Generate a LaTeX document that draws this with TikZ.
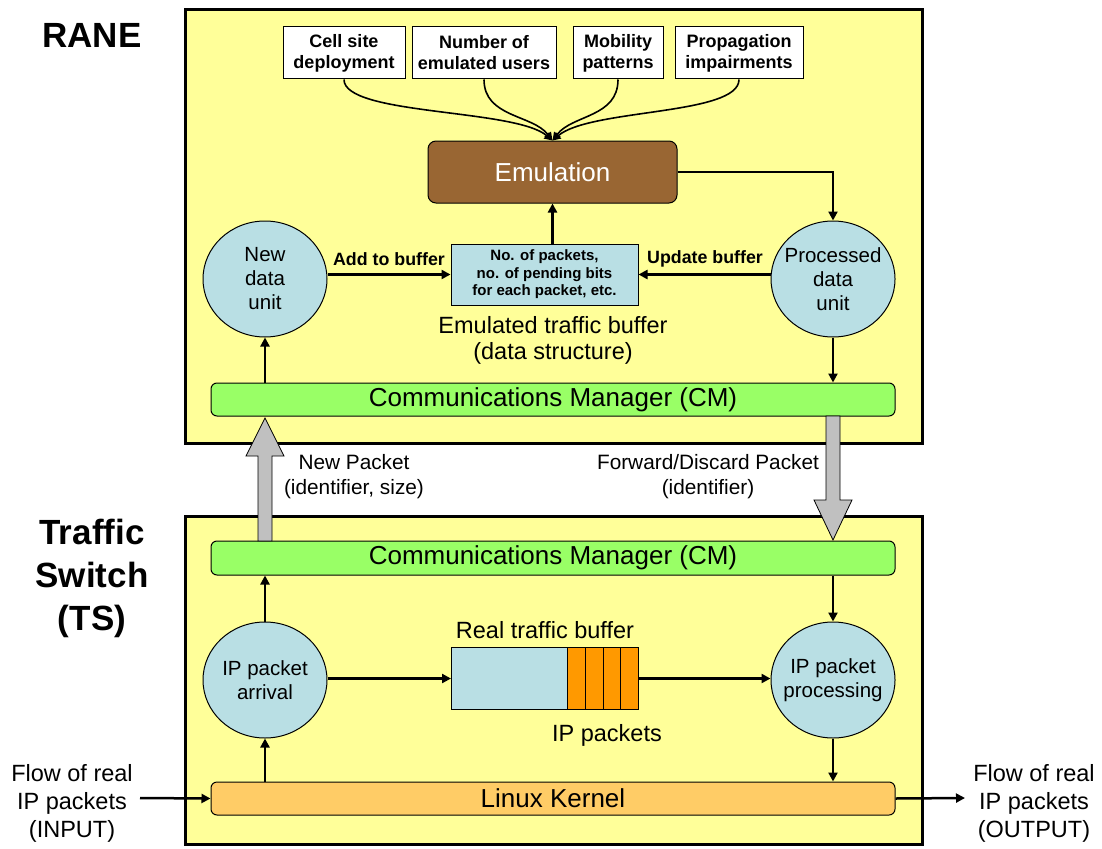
\documentclass[tikz,border=0pt]{standalone}
\usepackage{fontspec}
\setmainfont{Liberation Sans}
\usetikzlibrary{arrows.meta,shapes.geometric,calc}

\definecolor{panel}{HTML}{FFFF99}
\definecolor{unitblue}{HTML}{B9DFE4}
\definecolor{cmgreen}{HTML}{99FF66}
\definecolor{emubrown}{HTML}{996633}
\definecolor{pktorange}{HTML}{FF9900}
\definecolor{kernel}{HTML}{FFCC66}
\definecolor{biggrey}{HTML}{C0C0C0}

\newcommand{\fsz}[2]{\fontsize{#1pt}{#2pt}\selectfont}

\tikzset{
  panelbox/.style={draw, line width=3pt, fill=panel, inner sep=0pt, anchor=north west},
  paramb/.style={draw, line width=1pt, fill=white, align=center, inner sep=0pt,
    minimum height=52pt, font=\bfseries\fsz{18}{21}},
  unitcirc/.style={ellipse, draw, line width=1pt, fill=unitblue, inner xsep=-16pt,
    inner ysep=-16pt, minimum width=124pt, minimum height=116pt, align=center,
    font=\fsz{20.5}{24}},
  bar/.style={draw, line width=1pt, rounded corners=6pt, inner sep=0pt,
    minimum width=684pt, minimum height=33pt, font=\fsz{26}{30}},
  flow/.style={line width=2.5pt, -{Triangle[length=9pt,width=9pt]}},
  feed/.style={line width=1.6pt, -{Triangle[length=8pt,width=8pt]}},
  bigarrow/.style={draw=black, line width=0.8pt, fill=biggrey},
  plain/.style={align=center, inner sep=0pt},
  heading/.style={align=center, inner sep=0pt, font=\bfseries\fsz{35}{43}},
  cell/.style={draw, line width=1pt, fill=pktorange, minimum width=17.75pt,
    minimum height=62pt, inner sep=0pt, anchor=north west}
}

\begin{document}
\begin{tikzpicture}[x=1pt,y=-1pt]
\useasboundingbox (0,0) rectangle (1102,848);

% ---------- panels ----------
\node[panelbox, minimum width=737pt, minimum height=434pt] (rane) at (184,8) {};
\node[panelbox, minimum width=737pt, minimum height=328pt] (ts) at (184,515) {};

\node[heading] (ranelbl) at (92,35) {RANE};
\node[heading] (tslbl) at (92,578) {Traffic\\Switch\\(TS)};

% ---------- emulation parameters ----------
\node[paramb, minimum width=122pt] (cellsite) at (344,53) {Cell site\\deployment};
\node[paramb, minimum width=144pt] (numusers) at (484,53) {Number of\\emulated users};
\node[paramb, minimum width=90pt] (mobility) at (618,53) {Mobility\\patterns};
\node[paramb, minimum width=128pt] (propag) at (739,53) {Propagation\\impairments};

\node[draw, line width=1pt, fill=emubrown, rounded corners=8pt, minimum width=249pt,
      minimum height=62pt, inner sep=0pt, text=white, font=\fsz{26}{30}]
      (emu) at (552.5,172) {Emulation};

\draw[feed] (cellsite.south) .. controls +(0,36) and +(-38,-32) .. (emu.north);
\draw[feed] (numusers.south) .. controls +(0,38) and +(-20,-26) .. (emu.north);
\draw[feed] (mobility.south) .. controls +(0,38) and +(20,-26) .. (emu.north);
\draw[feed] (propag.south) .. controls +(0,36) and +(38,-32) .. (emu.north);

% ---------- emulated traffic buffer ----------
\node[draw, line width=1pt, fill=unitblue, minimum width=187pt, minimum height=61pt,
      inner sep=0pt, align=center, font=\bfseries\fsz{15}{17.5}]
      (ebuf) at (544.5,274.5) {No. of packets,\\no. of pending bits\\for each packet, etc.};
\node[plain, font=\fsz{23.5}{26}] (ebuflbl) at (553,340) {Emulated traffic buffer\\(data structure)};

\node[unitcirc] (newdu) at (265,279) {New\\data\\unit};
\node[unitcirc] (procdu) at (833,279) {Processed\\data\\unit};

\node[bar, fill=cmgreen] (cmr) at (553,399.5) {Communications Manager (CM)};

\draw[flow] (emu.east) -| (procdu.north);
\draw[flow] (ebuf.north -| emu.south) -- (emu.south);
\draw[flow] (newdu.east |- ebuf.west) -- (ebuf.west);
\draw[flow] (procdu.west |- ebuf.east) -- (ebuf.east);
\node[plain, font=\bfseries\fsz{17.8}{20}] (addlbl) at (389,259) {Add to buffer};
\node[plain, font=\bfseries\fsz{17.8}{20}] (updlbl) at (705,259) {Update buffer};
\draw[flow] (cmr.north -| newdu.south) -- (newdu.south);
\draw[flow] (procdu.south) -- (procdu.south |- cmr.north);

% ---------- traffic switch ----------
\node[bar, fill=cmgreen, minimum height=34pt] (cmt) at (553,558) {Communications Manager (CM)};
\node[unitcirc] (arrival) at (265,680) {IP packet\\arrival};
\node[unitcirc] (process) at (833,680) {IP packet\\processing};
\node[bar, fill=kernel] (kernel) at (553,798.5) {Linux Kernel};

% real traffic buffer: free space followed by queued packets
\node[draw, line width=1pt, fill=unitblue, minimum width=116pt, minimum height=62pt,
      inner sep=0pt, anchor=north west] (rbuf) at (451,647) {};
\node[cell] (c1) at (567,647) {};
\node[cell] (c2) at (584.75,647) {};
\node[cell] (c3) at (602.5,647) {};
\node[cell] (c4) at (620.25,647) {};
\node[plain, font=\fsz{23.5}{26}] (rbuflbl) at (545,630) {Real traffic buffer};
\node[plain, font=\fsz{23.5}{26}] (pktlbl) at (607,735) {IP packets};

\draw[flow] (arrival.north) -- (arrival.north |- cmt.south);
\draw[flow] (cmt.south -| process.north) -- (process.north);
\draw[flow] (arrival.east |- rbuf.west) -- (rbuf.west);
\draw[flow] (c4.east) -- (process.west |- c4.east);
\draw[flow] (kernel.north -| arrival.south) -- (arrival.south);
\draw[flow] (process.south) -- (process.south |- kernel.north);

% ---------- RANE <-> TS messages ----------
\draw[bigarrow] (258,541) -- (258,456) -- (246,456) -- (265,418) -- (284,456)
  -- (272,456) -- (272,541) -- cycle;
\draw[bigarrow] (826,416) -- (826,500) -- (814,500) -- (833,540) -- (852,500)
  -- (840,500) -- (840,416) -- cycle;
\node[plain, font=\fsz{20.8}{25}] (newpkt) at (354,477) {New Packet\\(identifier, size)};
\node[plain, font=\fsz{20.8}{25}] (fwdpkt) at (708,477) {Forward/Discard Packet\\(identifier)};

% ---------- real packet flow ----------
\node[plain, font=\fsz{23.5}{28}] (inlbl) at (72,803) {Flow of real\\IP packets\\(INPUT)};
\node[plain, font=\fsz{23.5}{28}] (outlbl) at (1034,803) {Flow of real\\IP packets\\(OUTPUT)};
\coordinate (instart) at (140,798);
\coordinate (outend) at (965,798);
\draw[flow] (instart) -- (kernel.west);
\draw[flow] (kernel.east) -- (outend);
\end{tikzpicture}
\end{document}
